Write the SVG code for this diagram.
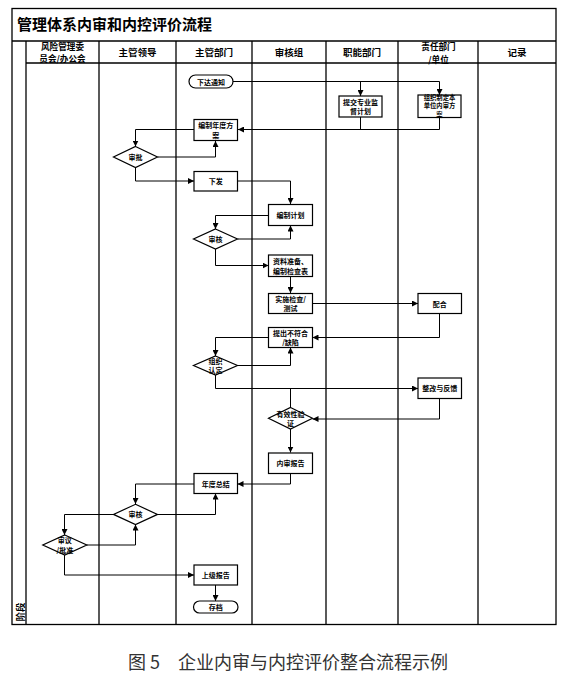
<svg xmlns="http://www.w3.org/2000/svg" width="564" height="675" viewBox="0 0 564 675">
<style>
.frame{fill:none;stroke:#000;stroke-width:1.3}
.node{fill:#fff;stroke:#000;stroke-width:1.2}
.conn{fill:none;stroke:#000;stroke-width:1}
.t{font-family:"Noto Sans CJK SC","Liberation Sans",sans-serif;font-weight:bold;fill:#000;text-anchor:middle;dominant-baseline:central}
.nt{font-size:7px}
.st{font-size:6.3px}
.ht{font-size:9.5px}
.ht2{font-size:8.6px}
.title{font-family:"Noto Sans CJK SC","Liberation Sans",sans-serif;font-weight:bold;font-size:15px;fill:#000}
.cap{font-family:"Noto Sans CJK SC","Liberation Sans",sans-serif;font-size:18px;fill:#333;text-anchor:middle;dominant-baseline:central}
</style>
<defs>
<marker id="arr" viewBox="0 0 6 6" refX="6" refY="3" markerWidth="6" markerHeight="6" markerUnits="userSpaceOnUse" orient="auto">
<path d="M0,0 L6,3 L0,6 z" fill="#000"/>
</marker>
</defs>
<rect width="564" height="675" fill="#fff"/>

<g id="frame">
<rect class="frame" x="12" y="8.5" width="544" height="616"/>
<line class="frame" x1="12" y1="41" x2="556" y2="41"/>
<line class="frame" x1="26" y1="63" x2="556" y2="63"/>
<line class="frame" x1="26" y1="41" x2="26" y2="624.5"/>
<line class="frame" x1="99" y1="41" x2="99" y2="624.5"/>
<line class="frame" x1="176" y1="41" x2="176" y2="624.5"/>
<line class="frame" x1="252" y1="41" x2="252" y2="624.5"/>
<line class="frame" x1="326" y1="41" x2="326" y2="624.5"/>
<line class="frame" x1="398" y1="41" x2="398" y2="624.5"/>
<line class="frame" x1="478" y1="41" x2="478" y2="624.5"/>
<text class="title" x="17" y="30">管理体系内审和内控评价流程</text>
<text class="t ht2" x="62.5" y="45.6">风险管理委</text>
<text class="t ht2" x="62.5" y="58.2">员会/办公会</text>
<text class="t ht" x="137.5" y="52">主管领导</text>
<text class="t ht" x="214" y="52">主管部门</text>
<text class="t ht" x="289" y="52">审核组</text>
<text class="t ht" x="362" y="52">职能部门</text>
<text class="t ht2" x="438.5" y="46">责任部门</text>
<text class="t ht2" x="438.5" y="58.6">/单位</text>
<text class="t ht" x="517" y="52">记录</text>
<text class="t ht" x="0" y="0" transform="translate(19.5,612) rotate(-90)">阶段</text>
</g>

<g id="connectors">
<path class="conn" d="M233,81.5 H439.5 V95" marker-end="url(#arr)"/>
<path class="conn" d="M360.5,81.5 V96" marker-end="url(#arr)"/>
<path class="conn" d="M360.5,117 V129.5"/>
<path class="conn" d="M439.5,117.5 V129.5 H238" marker-end="url(#arr)"/>
<path class="conn" d="M194,129.5 H135.5 V146.5" marker-end="url(#arr)"/>
<path class="conn" d="M157.5,157 H215.5 V141" marker-end="url(#arr)"/>
<path class="conn" d="M135.5,167.5 V181 H194" marker-end="url(#arr)"/>
<path class="conn" d="M237.5,181 H290.5 V204" marker-end="url(#arr)"/>
<path class="conn" d="M268.5,215.5 H215.5 V229" marker-end="url(#arr)"/>
<path class="conn" d="M237.5,239 H290.5 V225.5" marker-end="url(#arr)"/>
<path class="conn" d="M215.5,249 V265.5 H268.5" marker-end="url(#arr)"/>
<path class="conn" d="M290.5,276.5 V293" marker-end="url(#arr)"/>
<path class="conn" d="M312.5,303.5 H418" marker-end="url(#arr)"/>
<path class="conn" d="M439.5,313.5 V337.5 H312.5" marker-end="url(#arr)"/>
<path class="conn" d="M268.5,337.5 H215.5 V356" marker-end="url(#arr)"/>
<path class="conn" d="M237.5,365.5 H290.5 V347.5" marker-end="url(#arr)"/>
<path class="conn" d="M215.5,375 V388.5 H418" marker-end="url(#arr)"/>
<path class="conn" d="M290.5,388.5 V407.5"/>
<path class="conn" d="M439.5,398.5 V419 H312.5" marker-end="url(#arr)"/>
<path class="conn" d="M290.5,429 V452.5" marker-end="url(#arr)"/>
<path class="conn" d="M290.5,473.5 V484 H237.5" marker-end="url(#arr)"/>
<path class="conn" d="M194,484 H135.5 V504" marker-end="url(#arr)"/>
<path class="conn" d="M157.5,514.5 H215.5 V493.5" marker-end="url(#arr)"/>
<path class="conn" d="M113.5,514.5 H64.5 V535" marker-end="url(#arr)"/>
<path class="conn" d="M86.5,545 H135.5 V524.5" marker-end="url(#arr)"/>
<path class="conn" d="M64.5,555 V575 H194" marker-end="url(#arr)"/>
<path class="conn" d="M215.5,585 V601" marker-end="url(#arr)"/>
</g>

<g id="n-notice">
<rect class="node" x="189" y="75" width="44" height="13" rx="6.5"/>
<text class="t nt" x="211" y="81.5">下达通知</text>
</g>
<g id="n-submit">
<rect class="node" x="339" y="96" width="43" height="21"/>
<text class="t nt" x="360.5" y="101.8">提交专业监</text>
<text class="t nt" x="360.5" y="111.2">督计划</text>
</g>
<g id="n-unitplan">
<rect class="node" x="418" y="95" width="43" height="22.5"/>
<text class="t st" x="439.5" y="97.5">组织制定本</text>
<text class="t st" x="439.5" y="105.8">单位内审方</text>
<text class="t st" x="439.5" y="114.1">案</text>
</g>
<g id="n-annualplan">
<rect class="node" x="194" y="119.5" width="43.5" height="21"/>
<text class="t nt" x="215.7" y="125.3">编制年度方</text>
<text class="t nt" x="215.7" y="134.7">案</text>
</g>
<g id="n-approve">
<polygon class="node" points="135.5,146.5 157.5,157 135.5,167.5 113.5,157"/>
<text class="t nt" x="135.5" y="157">审批</text>
</g>
<g id="n-issue">
<rect class="node" x="194" y="171.5" width="43.5" height="19.5"/>
<text class="t nt" x="215.7" y="181.2">下发</text>
</g>
<g id="n-plan">
<rect class="node" x="268.5" y="204.5" width="44" height="21"/>
<text class="t nt" x="290.5" y="215">编制计划</text>
</g>
<g id="n-review1">
<polygon class="node" points="215.5,229 237.5,239 215.5,249 193.5,239"/>
<text class="t nt" x="215.5" y="239">审核</text>
</g>
<g id="n-prepare">
<rect class="node" x="268.5" y="255" width="44" height="21.5"/>
<text class="t nt" x="290.5" y="261">资料准备、</text>
<text class="t nt" x="290.5" y="270.5">编制检查表</text>
</g>
<g id="n-inspect">
<rect class="node" x="268.5" y="293.5" width="44" height="20"/>
<text class="t nt" x="290.5" y="298.8">实施检查/</text>
<text class="t nt" x="290.5" y="308.2">测试</text>
</g>
<g id="n-cooperate">
<rect class="node" x="418" y="293.5" width="43.5" height="20"/>
<text class="t nt" x="439.7" y="303.5">配合</text>
</g>
<g id="n-defect">
<rect class="node" x="268.5" y="327.5" width="44" height="20"/>
<text class="t nt" x="290.5" y="332.8">提出不符合</text>
<text class="t nt" x="290.5" y="342.2">/缺陷</text>
</g>
<g id="n-confirm">
<polygon class="node" points="215.5,356 237.5,365.5 215.5,375 193.5,365.5"/>
<text class="t nt" x="215.5" y="360.8">组织</text>
<text class="t nt" x="215.5" y="370.2">认定</text>
</g>
<g id="n-rectify">
<rect class="node" x="418" y="378" width="43.5" height="20.5"/>
<text class="t nt" x="439.7" y="388.2">整改与反馈</text>
</g>
<g id="n-verify">
<polygon class="node" points="290.5,407.5 312.5,418.2 290.5,429 268.5,418.2"/>
<text class="t nt" x="290.5" y="413.5">有效性验</text>
<text class="t nt" x="290.5" y="422.9">证</text>
</g>
<g id="n-auditreport">
<rect class="node" x="268.5" y="453" width="44" height="20.5"/>
<text class="t nt" x="290.5" y="463.2">内审报告</text>
</g>
<g id="n-summary">
<rect class="node" x="194" y="473.5" width="43.5" height="20"/>
<text class="t nt" x="215.7" y="483.5">年度总结</text>
</g>
<g id="n-review2">
<polygon class="node" points="135.5,504.3 157.5,514.4 135.5,524.5 113.5,514.4"/>
<text class="t nt" x="135.5" y="514.4">审核</text>
</g>
<g id="n-deliberate">
<polygon class="node" points="64.8,535 86.8,545 64.8,555 42.8,545"/>
<text class="t nt" x="64.8" y="540.3">审议</text>
<text class="t nt" x="64.8" y="549.7">/批准</text>
</g>
<g id="n-upreport">
<rect class="node" x="194" y="565" width="43.5" height="20"/>
<text class="t nt" x="215.7" y="575">上级报告</text>
</g>
<g id="n-archive">
<rect class="node" x="193.5" y="601" width="44.5" height="12" rx="6"/>
<text class="t nt" x="215.7" y="607">存档</text>
</g>

<text class="cap" x="288" y="661">图 5　企业内审与内控评价整合流程示例</text>
</svg>
